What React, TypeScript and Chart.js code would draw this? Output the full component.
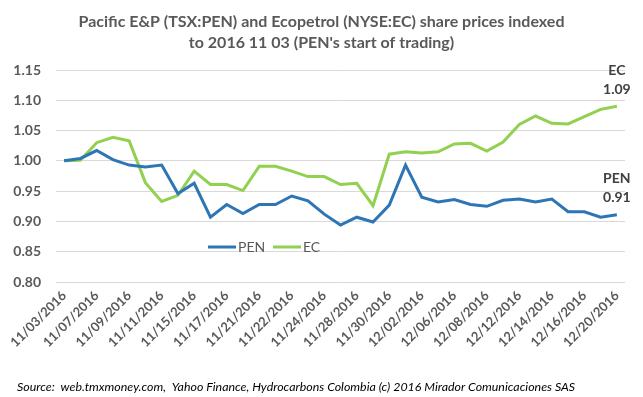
import React, { useEffect, useRef } from "react";
import { Chart, registerables } from "chart.js";

Chart.register(...registerables);

const dates = [
  "11/03/2016", "11/04/2016", "11/07/2016", "11/08/2016", "11/09/2016", "11/10/2016",
  "11/11/2016", "11/14/2016", "11/15/2016", "11/16/2016", "11/17/2016", "11/18/2016",
  "11/21/2016", "11/21/2016", "11/22/2016", "11/23/2016", "11/24/2016", "11/25/2016",
  "11/28/2016", "11/29/2016", "11/30/2016", "12/01/2016", "12/02/2016", "12/05/2016",
  "12/06/2016", "12/07/2016", "12/08/2016", "12/09/2016", "12/12/2016", "12/13/2016",
  "12/14/2016", "12/15/2016", "12/16/2016", "12/19/2016", "12/20/2016",
];

const penValues = [
  1.0, 1.004, 1.017, 1.002, 0.993, 0.99, 0.993, 0.946, 0.963, 0.907, 0.928, 0.913,
  0.928, 0.928, 0.942, 0.934, 0.912, 0.894, 0.907, 0.899, 0.927, 0.993, 0.94, 0.932,
  0.936, 0.928, 0.925, 0.935, 0.937, 0.932, 0.937, 0.916, 0.916, 0.907, 0.911,
];

const ecValues = [
  1.0, 1.001, 1.03, 1.039, 1.033, 0.964, 0.933, 0.943, 0.983, 0.961, 0.961, 0.951,
  0.991, 0.991, 0.983, 0.974, 0.974, 0.961, 0.963, 0.926, 1.011, 1.015, 1.013, 1.015,
  1.028, 1.029, 1.016, 1.031, 1.06, 1.074, 1.062, 1.061, 1.073, 1.085, 1.09,
];

const seriesNames = ["PEN", "EC"];
const seriesColors = ["#2E75B6", "#92D050"];

const titleLines = [
  "Pacific E&P (TSX:PEN) and Ecopetrol (NYSE:EC) share prices indexed",
  "to 2016 11 03 (PEN's start of trading)",
];
const sourceText =
  "Source:  web.tmxmoney.com,  Yahoo Finance, Hydrocarbons Colombia (c) 2016 Mirador Comunicaciones SAS";

const FONT = "Lato, 'Open Sans', sans-serif";

const overlayPlugin = {
  id: "overlay",
  afterDraw(chart: any) {
    const ctx = chart.ctx;
    const w = chart.width;
    ctx.save();
    // title
    ctx.fillStyle = "#595959";
    ctx.font = `bold 16px ${FONT}`;
    ctx.textAlign = "center";
    ctx.textBaseline = "middle";
    ctx.fillText(titleLines[0], w / 2, 22);
    ctx.fillText(titleLines[1], w / 2, 43);

    // source
    ctx.font = `italic 12.4px ${FONT}`;
    ctx.fillStyle = "#000000";
    ctx.textAlign = "left";
    ctx.fillText(sourceText, 17, 387);

    // legend
    ctx.font = `14px ${FONT}`;
    ctx.fillStyle = "#595959";
    ctx.lineWidth = 3;
    const ly = 247;
    const legendX = [208, 273];
    seriesNames.forEach((n, i) => {
      ctx.strokeStyle = seriesColors[i];
      ctx.beginPath();
      ctx.moveTo(legendX[i], ly);
      ctx.lineTo(legendX[i] + 28, ly);
      ctx.stroke();
      ctx.fillText(n, legendX[i] + 30, ly);
    });

    // end labels
    const xs = chart.scales.x;
    const ys = chart.scales.y;
    ctx.font = `bold 14px ${FONT}`;
    ctx.fillStyle = "#404040";
    ctx.textAlign = "center";
    const data = [penValues, ecValues];
    data.forEach((arr, i) => {
      const last = arr.length - 1;
      const px = xs.getPixelForValue(last);
      const py = ys.getPixelForValue(arr[last]);
      ctx.fillText(seriesNames[i], px, py - 36);
      ctx.fillText(arr[last].toFixed(2), px, py - 17);
    });
    ctx.restore();
  },
};

export default function App() {
  const ref = useRef<HTMLCanvasElement>(null);
  useEffect(() => {
    document.body.style.margin = "0";
    const chart = new Chart(ref.current!, {
      type: "line",
      data: {
        labels: dates,
        datasets: [
          {
            label: seriesNames[0],
            data: penValues,
            borderColor: seriesColors[0],
            backgroundColor: seriesColors[0],
            borderWidth: 3,
            pointRadius: 0,
            tension: 0,
          },
          {
            label: seriesNames[1],
            data: ecValues,
            borderColor: seriesColors[1],
            backgroundColor: seriesColors[1],
            borderWidth: 3,
            pointRadius: 0,
            tension: 0,
          },
        ],
      },
      options: {
        animation: false,
        responsive: false,
        layout: { padding: { left: 0, right: 18, top: 70, bottom: 0 } },
        plugins: { legend: { display: false }, title: { display: false }, tooltip: { enabled: false } },
        scales: {
          x: {
            offset: true,
            grid: { display: false, drawTicks: false },
            border: { display: false },
            ticks: {
              autoSkip: false,
              maxRotation: 45,
              minRotation: 45,
              padding: 6,
              color: "#595959",
              font: { family: FONT, size: 13, weight: "bold" },
              callback: (_v: any, i: number) => (i % 2 === 0 ? dates[i] : ""),
            },
            afterFit: (s: any) => {
              s.height = 115;
            },
          },
          y: {
            min: 0.8,
            max: 1.15,
            grid: { color: "#D9D9D9", lineWidth: 1, drawTicks: false },
            border: { display: false },
            ticks: {
              stepSize: 0.05,
              padding: 15,
              color: "#595959",
              font: { family: FONT, size: 14, weight: "bold" },
              callback: (v: any) => Number(v).toFixed(2),
            },
            afterFit: (s: any) => {
              s.width = 56;
            },
          },
        },
      },
      plugins: [overlayPlugin],
    });
    return () => chart.destroy();
  }, []);
  return <canvas ref={ref} width={643} height={397} style={{ display: "block" }} />;
}
